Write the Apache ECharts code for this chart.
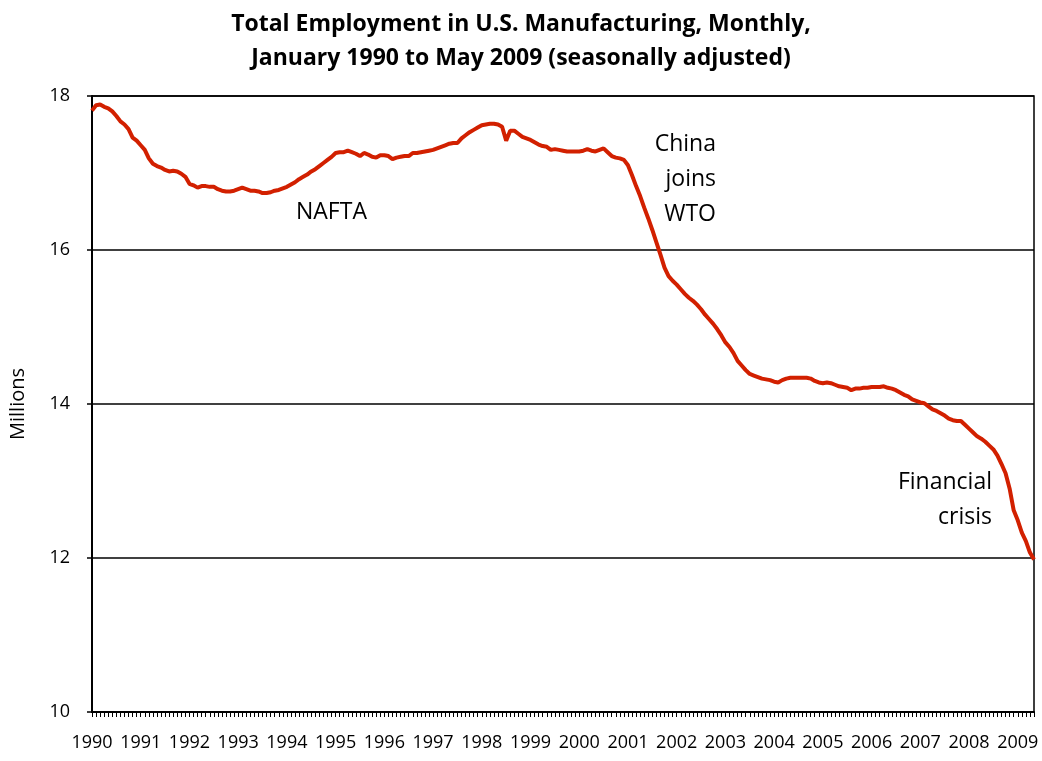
<!DOCTYPE html>
<html>
<head>
<meta charset="utf-8">
<script src="https://cdn.jsdelivr.net/npm/echarts@6/dist/echarts.min.js"></script>
<style>html,body{margin:0;padding:0;background:#fff}#c{width:1042px;height:761px}</style>
</head>
<body>
<div id="c"></div>
<script>
var years = ['1990','1991','1992','1993','1994','1995','1996','1997','1998','1999','2000','2001','2002','2003','2004','2005','2006','2007','2008','2009'];
var yTicks = [10, 12, 14, 16, 18];
var v1990 = [17.81,17.88,17.89,17.86,17.84,17.80,17.74,17.67,17.63,17.57,17.46,17.42];
var v1991 = [17.36,17.30,17.19,17.12,17.09,17.07,17.04,17.02,17.03,17.02,16.99,16.95];
var v1992 = [16.86,16.84,16.81,16.83,16.83,16.82,16.82,16.79,16.77,16.76,16.76,16.77];
var v1993 = [16.79,16.81,16.79,16.77,16.77,16.76,16.74,16.74,16.75,16.77,16.78,16.80];
var v1994 = [16.82,16.85,16.88,16.92,16.95,16.98,17.02,17.05,17.09,17.13,17.17,17.21];
var v1995 = [17.26,17.27,17.27,17.29,17.27,17.25,17.22,17.26,17.24,17.21,17.20,17.23];
var v1996 = [17.23,17.22,17.18,17.20,17.21,17.22,17.22,17.26,17.26,17.27,17.28,17.29];
var v1997 = [17.30,17.32,17.34,17.36,17.38,17.39,17.39,17.45,17.49,17.53,17.56,17.59];
var v1998 = [17.62,17.63,17.64,17.64,17.63,17.60,17.42,17.55,17.55,17.51,17.47,17.45];
var v1999 = [17.43,17.40,17.37,17.35,17.34,17.30,17.31,17.30,17.29,17.28,17.28,17.28];
var v2000 = [17.28,17.29,17.31,17.29,17.28,17.30,17.32,17.27,17.22,17.20,17.19,17.17];
var v2001 = [17.10,16.97,16.83,16.70,16.55,16.41,16.26,16.10,15.94,15.77,15.66,15.60];
var v2002 = [15.55,15.49,15.43,15.38,15.34,15.29,15.23,15.16,15.10,15.04,14.97,14.89];
var v2003 = [14.80,14.74,14.66,14.56,14.50,14.44,14.39,14.37,14.35,14.33,14.32,14.31];
var v2004 = [14.29,14.28,14.31,14.33,14.34,14.34,14.34,14.34,14.34,14.33,14.30,14.28];
var v2005 = [14.27,14.28,14.27,14.25,14.23,14.22,14.21,14.18,14.20,14.20,14.21,14.21];
var v2006 = [14.22,14.22,14.22,14.23,14.21,14.20,14.18,14.15,14.12,14.10,14.06,14.04];
var v2007 = [14.02,14.01,13.97,13.93,13.91,13.88,13.85,13.81,13.79,13.78,13.78,13.73];
var v2008 = [13.68,13.63,13.58,13.55,13.51,13.46,13.41,13.33,13.22,13.10,12.90,12.62];
var v2009 = [12.49,12.33,12.22,12.07,11.98];

var yearly = [v1990,v1991,v1992,v1993,v1994,v1995,v1996,v1997,v1998,v1999,v2000,v2001,v2002,v2003,v2004,v2005,v2006,v2007,v2008,v2009];
var months = [], values = [];
yearly.forEach(function(arr, yi){
  arr.forEach(function(v, mi){ months.push(years[yi] + '-' + (mi+1)); values.push(v); });
});

var FONT = '"Open Sans", "Noto Sans", sans-serif';
var chart = echarts.init(document.getElementById('c'), null, {renderer:'canvas'});
chart.setOption({
  animation: false,
  backgroundColor: '#fff',
  title: {
    text: 'Total Employment in U.S. Manufacturing, Monthly,\nJanuary 1990 to May 2009 (seasonally adjusted)',
    left: 516, top: 2, textAlign: 'center',
    textStyle: {fontFamily: FONT, fontWeight: 'bold', fontSize: 23, lineHeight: 34, color: '#000'}
  },
  grid: {left: 89, right: 8, top: 96, bottom: 49, show: true, borderColor: '#000', borderWidth: 1.5, containLabel: false},
  xAxis: {
    type: 'category', data: months, boundaryGap: false,
    axisLine: {lineStyle: {color: '#000', width: 2}},
    axisTick: {interval: 0, length: 5, lineStyle: {color: '#000', width: 1}},
    axisLabel: {
      interval: 11, margin: 22, color: '#000', fontFamily: FONT, fontSize: 18,
      formatter: function(v){ return v.split('-')[0]; }
    },
    splitLine: {show: false}
  },
  yAxis: {
    type: 'value', min: 10, max: 18, interval: 2,
    name: 'Millions', nameLocation: 'middle', nameGap: 64, nameRotate: 90,
    nameTextStyle: {fontFamily: FONT, fontSize: 20, color: '#000'},
    axisLine: {show: true, lineStyle: {color: '#000', width: 2}},
    axisTick: {show: true, length: 5, lineStyle: {color: '#000', width: 1.5}},
    axisLabel: {margin: 22, color: '#000', fontFamily: FONT, fontSize: 18,
      formatter: function(v){ return yTicks.indexOf(v) >= 0 ? String(v) : ''; }},
    splitLine: {show: true, lineStyle: {color: '#000', width: 1.5}}
  },
  series: [{
    type: 'line', data: values, symbol: 'none', smooth: false,
    lineStyle: {color: '#d22000', width: 4}
  }],
  graphic: [
    {type: 'text', left: 296, top: 201, style: {text: 'NAFTA', font: '23px ' + FONT, fill: '#000'}},
    {type: 'text', right: 1042-716, top: 127, style: {text: 'China\njoins\nWTO', font: '23px ' + FONT, fill: '#000', textAlign: 'right', lineHeight: 35}},
    {type: 'text', right: 1042-992, top: 465, style: {text: 'Financial\ncrisis', font: '23px ' + FONT, fill: '#000', textAlign: 'right', lineHeight: 35}}
  ]
});
</script>
</body>
</html>
